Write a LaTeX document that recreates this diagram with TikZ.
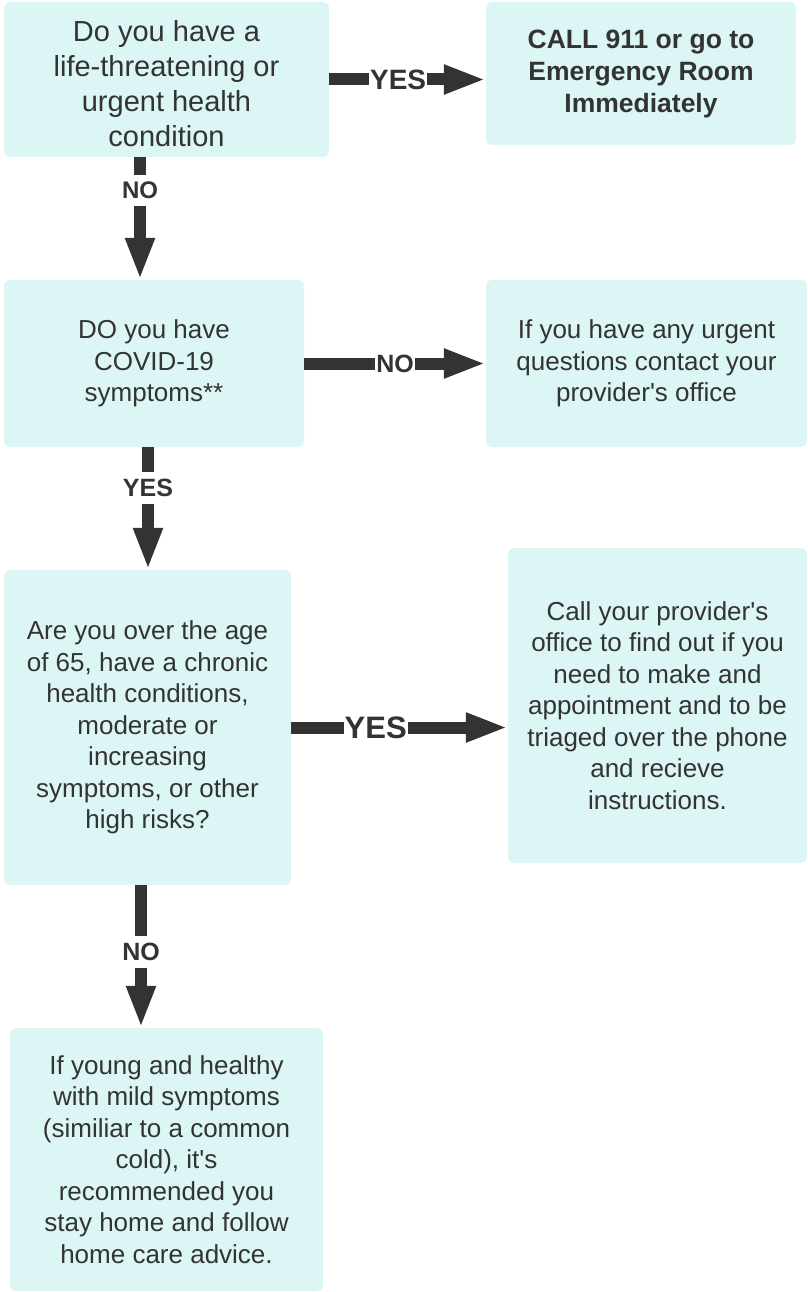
\documentclass[tikz,border=0pt]{standalone}
\usepackage{fontspec}
\setmainfont{Liberation Sans}
\usetikzlibrary{arrows.meta}
\definecolor{boxfill}{RGB}{220,245,245}
\definecolor{ink}{RGB}{51,51,51}
\begin{document}
\begin{tikzpicture}[x=1pt,y=-1pt,
  box/.style={fill=boxfill, rounded corners=6pt, align=center, text=ink, inner sep=0pt,
    font=\fontsize{26}{31.5}\selectfont},
  conn/.style={draw=ink, line width=12pt, -{Triangle[length=42pt,width=27pt]}},
  lab/.style={fill=white, text=ink, inner xsep=1pt, inner ysep=7pt}]
\useasboundingbox (0,0) rectangle (807,1292);
\node[box, minimum width=325pt, minimum height=155pt, font=\fontsize{29}{35}\selectfont] (q1) at (166.5,79.5)
  {\\[-6pt]Do you have a\\life-threatening or\\urgent health\\condition};
\node[box, minimum width=310pt, minimum height=143pt, font=\bfseries\fontsize{26.5}{32}\selectfont] (q2) at (641,73.5)
  {CALL 911 or go to\\Emergency Room\\Immediately};
\node[box, minimum width=300pt, minimum height=167pt] (q3) at (154,363.5)
  {DO you have\\COVID-19\\symptoms**};
\node[box, minimum width=321pt, minimum height=167pt] (q4) at (646.5,363.5)
  {If you have any urgent\\questions contact your\\provider\textquotesingle s office};
\node[box, minimum width=287pt, minimum height=315pt] (q5) at (147.5,727.5)
  {Are you over the age\\of 65, have a chronic\\health conditions,\\moderate or\\increasing\\symptoms, or other\\high risks?};
\node[box, minimum width=299pt, minimum height=315pt] (q6) at (657.5,705.5)
  {Call your provider\textquotesingle s\\office to find out if you\\need to make and\\appointment and to be\\triaged over the phone\\and recieve\\instructions.};
\node[box, minimum width=313pt, minimum height=263pt] (q7) at (166.5,1159.5)
  {If young and healthy\\with mild symptoms\\(similiar to a common\\cold), it\textquotesingle s\\recommended you\\stay home and follow\\home care advice.};

\draw[conn] (q1.east) -- node[lab, pos=0.44, font=\bfseries\fontsize{28}{28}\selectfont] {YES} (q1.east -| q2.west);
\draw[conn] ([xshift=-26.5pt]q1.south) -- node[lab, pos=0.27, font=\bfseries\fontsize{24}{24}\selectfont] {NO} ([xshift=-26.5pt]q1.south |- q3.north);
\draw[conn] (q3.east) -- node[lab, pos=0.5, font=\bfseries\fontsize{25}{25}\selectfont] {NO} (q3.east -| q4.west);
\draw[conn] ([xshift=-6pt]q3.south) -- node[lab, pos=0.33, font=\bfseries\fontsize{25}{25}\selectfont] {YES} ([xshift=-6pt]q3.south |- q5.north);
\draw[conn] (q5.east) -- node[lab, pos=0.39, font=\bfseries\fontsize{31}{31}\selectfont] {YES} (q5.east -| q6.west);
\draw[conn] ([xshift=-6.5pt]q5.south) -- node[lab, pos=0.47, font=\bfseries\fontsize{25}{25}\selectfont] {NO} ([xshift=-6.5pt]q5.south |- q7.north);
\end{tikzpicture}
\end{document}
